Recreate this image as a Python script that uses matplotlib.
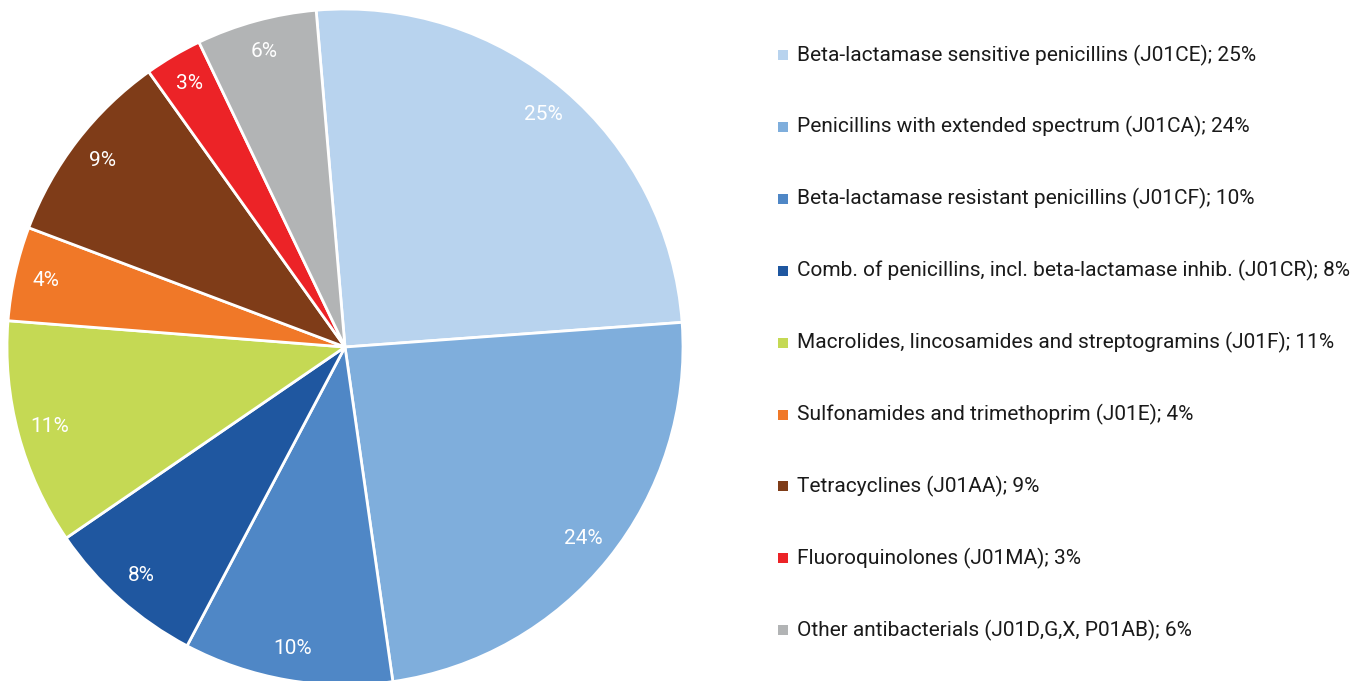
import matplotlib
matplotlib.use("Agg")
import matplotlib.pyplot as plt
from matplotlib.patches import Rectangle

categories = [
    "Beta-lactamase sensitive penicillins (J01CE)",
    "Penicillins with extended spectrum (J01CA)",
    "Beta-lactamase resistant penicillins (J01CF)",
    "Comb. of penicillins, incl. beta-lactamase inhib. (J01CR)",
    "Macrolides, lincosamides and streptogramins (J01F)",
    "Sulfonamides and trimethoprim (J01E)",
    "Tetracyclines (J01AA)",
    "Fluoroquinolones (J01MA)",
    "Other antibacterials (J01D,G,X, P01AB)",
]
# displayed percentages
pct_labels = [25, 24, 10, 8, 11, 4, 9, 3, 6]
# slice shares
shares = [25.2, 23.9, 10.0, 7.7, 10.8, 4.5, 9.4, 2.75, 5.75]
colors = ["#B8D3EE", "#7FAEDC", "#4F87C6", "#1F57A0", "#C5D954",
          "#F07828", "#7F3C18", "#EC2327", "#B2B4B5"]

plt.rcParams['font.family'] = ['Roboto', 'DejaVu Sans']

W, H = 1355, 681
fig = plt.figure(figsize=(W / 100, H / 100), dpi=100)

cx, cy, r = 345, 347, 338
ax = fig.add_axes([(cx - r) / W, (H - cy - r) / H, 2 * r / W, 2 * r / H])
wedges, texts = ax.pie(
    shares, colors=colors, startangle=94.9, counterclock=False, radius=1,
    wedgeprops=dict(edgecolor="white", linewidth=2))
ax.set_xlim(-1, 1)
ax.set_ylim(-1, 1)
ax.set_aspect("equal")
ax.axis("off")

import numpy as np
for w, p in zip(wedges, pct_labels):
    ang = np.deg2rad((w.theta1 + w.theta2) / 2)
    ax.text(0.905 * np.cos(ang), 0.905 * np.sin(ang), f"{p}%", color="white",
            fontsize=15, ha="center", va="center")

y0, dy = 55, 71.9
sq = 10
for i, (cat, v, c) in enumerate(zip(categories, pct_labels, colors)):
    y = y0 + i * dy
    fig.patches.append(Rectangle((778 / W, (H - y - sq / 2) / H), sq / W, sq / H,
                                 transform=fig.transFigure, facecolor=c,
                                 edgecolor="none"))
    fig.text(797 / W, (H - y) / H, f"{cat}; {v}%", fontsize=15,
             color="#1a1a1a", va="center", ha="left")

fig.savefig("out.png", dpi=100)
